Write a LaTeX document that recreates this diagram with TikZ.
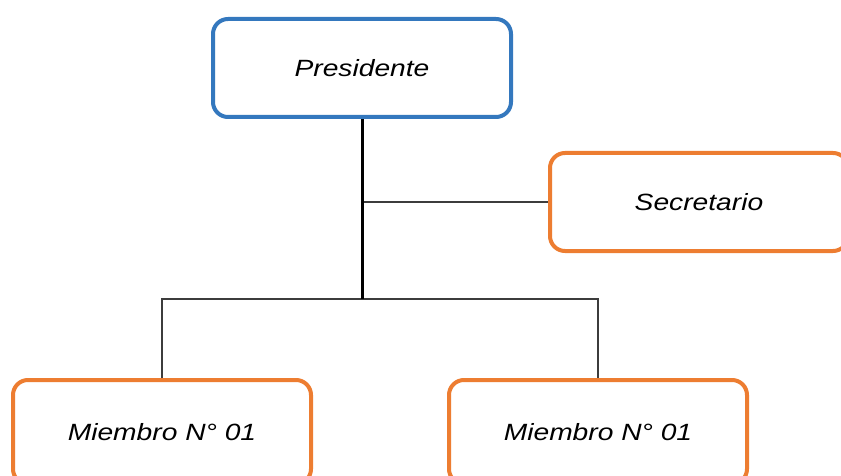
\documentclass[tikz,border=0pt]{standalone}
\usepackage{fontspec}
\setmainfont{Liberation Sans}
\newfontfamily\boxfont[FakeStretch=1.2]{Liberation Sans}
\definecolor{presblue}{RGB}{52,120,190}
\definecolor{memorange}{RGB}{237,125,49}
\definecolor{linegray}{RGB}{60,60,60}

\tikzset{
	cargo/.style={draw, fill=white, rounded corners=15pt, line width=4pt,
		minimum width=298pt, minimum height=98pt,
		font=\boxfont\itshape\fontsize{23.5}{28}\selectfont},
	link/.style={draw=linegray, line width=1.5pt}
}

\begin{document}
\begin{tikzpicture}[x=1pt, y=-1pt]
	\useasboundingbox (0,0) rectangle (841,476);
	\node[cargo, draw=presblue] (pres) at (362,68) {Presidente};
	\node[cargo, draw=memorange] (sec) at (699,202) {Secretario};
	\node[cargo, draw=memorange, minimum height=104pt] (m1) at (162,432) {Miembro N° 01};
	\node[cargo, draw=memorange, minimum height=104pt] (m2) at (598,432) {Miembro N° 01};
	\coordinate (bus) at (362,299);
	\draw[link] (pres.south |- sec.west) -- (sec.west);
	\draw[link] (m1.north) |- (bus) -| (m2.north);
	\draw[line width=3pt] (pres.south) -- (bus);
\end{tikzpicture}
\end{document}
